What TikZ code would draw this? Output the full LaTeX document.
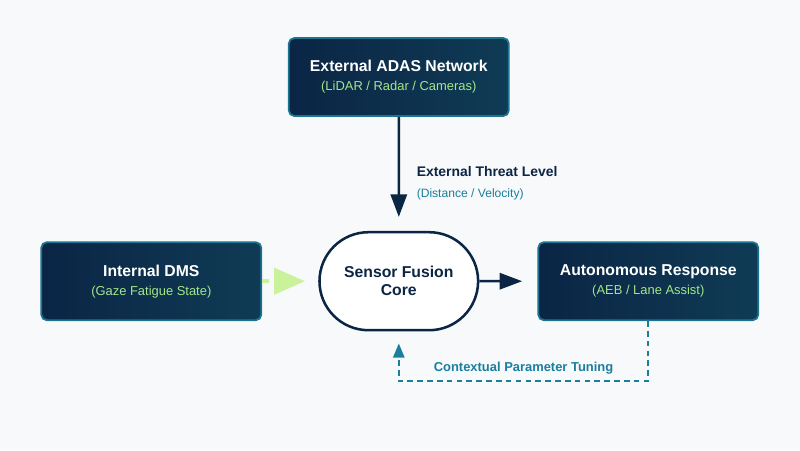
\documentclass[tikz,border=0pt]{standalone}
\usepackage{fontspec}
\setmainfont{Liberation Sans}
\usepackage{xcolor}
\usetikzlibrary{arrows.meta,positioning,shapes.misc}
\definecolor{navy}{HTML}{0B2545}
\definecolor{navyR}{HTML}{0F3B55}
\definecolor{edge}{HTML}{1C7392}
\definecolor{tealtxt}{HTML}{1A7F9E}
\definecolor{mint}{HTML}{A3E58A}
\definecolor{lime}{HTML}{C9F29A}
\definecolor{bg}{HTML}{F8F9FA}
\newcommand{\ttl}[1]{{\fontsize{11.2}{13}\selectfont\bfseries #1}}
\newcommand{\sub}[1]{{\fontsize{9.2}{11}\selectfont\color{mint} #1}}

\begin{document}
\begin{tikzpicture}[
  node distance=6mm,
  unit/.style={draw=edge, line width=1.3pt, rounded corners=4pt,
               left color=navy, right color=navyR, text=white, align=center,
               minimum width=5.5cm, minimum height=1.95cm},
  core/.style={rounded rectangle, draw=navy, line width=1.8pt, fill=white,
               text=navy, align=center, minimum width=4.2cm, minimum height=2.45cm},
  arr/.style={draw=navy, line width=1.8pt, -{Triangle[length=16pt,width=11.5pt]}},
  gaze/.style={draw=lime, line width=2.8pt, dash pattern=on 5pt off 4pt,
               -{Triangle[length=22pt,width=18.5pt]}},
  fb/.style={draw=tealtxt, line width=1.3pt, dash pattern=on 4pt off 3pt,
             -{Triangle[length=10pt,width=8pt]}}
]
\fill[bg] (0,0) rectangle (20,-11.25);

\node[core] (fusion) at (9.97,-7.03) {\ttl{Sensor Fusion}\\[1pt]\ttl{Core}};
\node[unit, above=2.85cm of fusion] (adas) {\ttl{External ADAS Network}\\[1.5pt]\sub{(LiDAR / Radar / Cameras)}};
\node[unit, left=1.4cm of fusion] (dms) {\ttl{Internal DMS}\\[1.5pt]\sub{(Gaze Fatigue State)}};
\node[unit, right=1.45cm of fusion] (resp) {\ttl{Autonomous Response}\\[1.5pt]\sub{(AEB / Lane Assist)}};

\draw[arr, shorten >=0.35cm] (adas) -- node[pos=0.58, right=0.3cm, align=left]
  {\textcolor{navy}{\ttl{\fontsize{9.9}{12}\selectfont External Threat Level}}\\[2.5pt]
   {\fontsize{8.6}{10}\selectfont\color{tealtxt}(Distance / Velocity)}} (fusion);
\draw[gaze, shorten >=0.33cm] (dms) -- (fusion);
\draw[arr, shorten >=0.38cm] (fusion) -- (resp);

% feedback loop
\draw[fb, shorten >=0.3cm] (resp.south) -- ++(0,-1.5) -| node[pos=0.25, above=1pt,
  font=\bfseries\fontsize{9.2}{10}\selectfont, text=tealtxt] {Contextual Parameter Tuning} (fusion.south);
\end{tikzpicture}
\end{document}
